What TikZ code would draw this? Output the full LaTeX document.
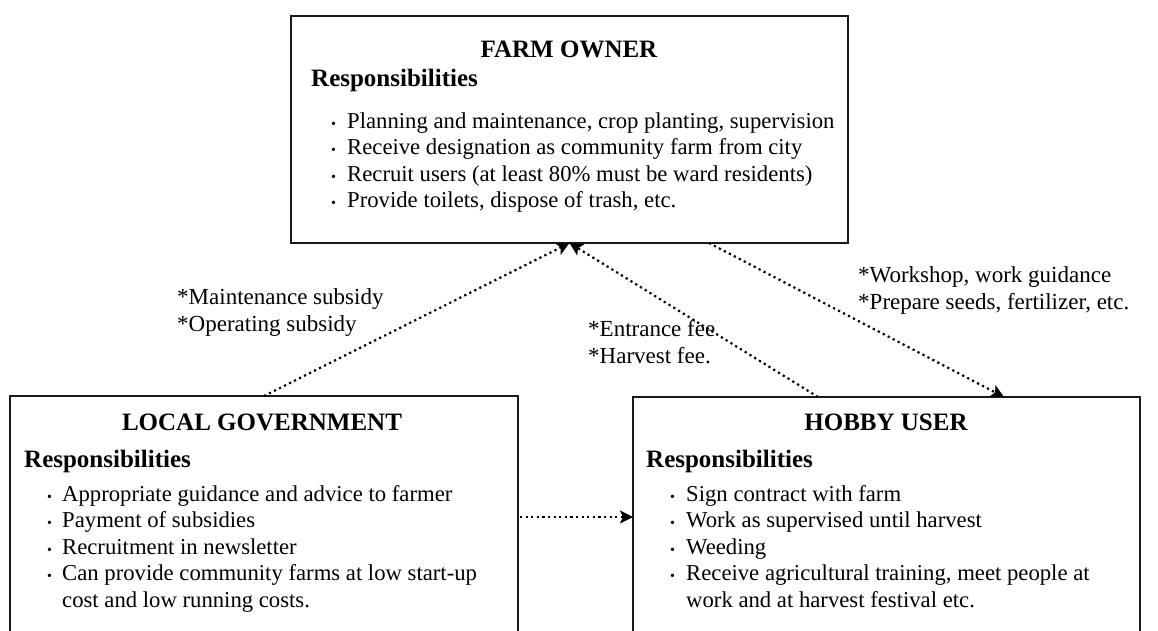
\documentclass[tikz,border=0pt]{standalone}
\usepackage{fontspec}
\setmainfont{Liberation Serif}
\usetikzlibrary{arrows.meta,calc}
\newcommand{\bul}{{\fontsize{14}{14}\selectfont\textbullet}}
\begin{document}
\begin{tikzpicture}[x=1pt,y=-1pt,
  box/.style={draw=black!90, line width=1.3pt, rectangle, inner sep=0pt, outer sep=0pt, anchor=north west},
  ttl/.style={font=\fontsize{25}{30}\selectfont\bfseries, inner sep=0pt, anchor=base},
  resp/.style={font=\fontsize{25}{30}\selectfont\bfseries, anchor=base west, inner sep=0pt},
  itm/.style={font=\fontsize{22.7}{27}\selectfont, anchor=base west, inner sep=0pt},
  dot/.style={anchor=base west, inner sep=0pt},
  lbl/.style={font=\fontsize{23}{27}\selectfont, anchor=base west, inner sep=0pt},
  flow/.style={line width=2.2pt, dash pattern=on 2.2pt off 3.4pt, -{Stealth[length=13pt,width=13pt,inset=3pt]}}
]
\useasboundingbox (0,0) rectangle (1158,630);
\clip (0,0) rectangle (1158,630);
\fill[white] (0,0) rectangle (1158,630);

% boxes
\node[box, minimum width=557pt, minimum height=227pt] (fo) at (291,16) {};
\node[box, minimum width=508pt, minimum height=300pt] (lg) at (10,396) {};
\node[box, minimum width=507pt, minimum height=300pt] (hu) at (633,397) {};

% farm owner
\node[ttl] (fot) at (569,57) {FARM OWNER};
\node[resp] (for) at (311,86) {Responsibilities};
\node[dot] (fob1) at (331,128) {\bul};
\node[itm] (fo1) at (347,128) {Planning and maintenance, crop planting, supervision};
\node[dot] (fob2) at (331,154.5) {\bul};
\node[itm] (fo2) at (347,154.5) {Receive designation as community farm from city};
\node[dot] (fob3) at (331,181) {\bul};
\node[itm] (fo3) at (347,181) {Recruit users (at least 80\% must be ward residents)};
\node[dot] (fob4) at (331,207.5) {\bul};
\node[itm] (fo4) at (347,207.5) {Provide toilets, dispose of trash, etc.};

% local government
\node[ttl] (lgt) at (262,430) {LOCAL GOVERNMENT};
\node[resp] (lgr) at (24,467) {Responsibilities};
\node[dot] (lgb1) at (47,501) {\bul};
\node[itm] (lg1) at (62,501) {Appropriate guidance and advice to farmer};
\node[dot] (lgb2) at (47,527.5) {\bul};
\node[itm] (lg2) at (62,527.5) {Payment of subsidies};
\node[dot] (lgb3) at (47,554) {\bul};
\node[itm] (lg3) at (62,554) {Recruitment in newsletter};
\node[dot] (lgb4) at (47,580.5) {\bul};
\node[itm] (lg4) at (62,580.5) {Can provide community farms at low start-up};
\node[itm] (lg5) at (62,607) {cost and low running costs.};

% hobby user
\node[ttl] (hut) at (886,430) {HOBBY USER};
\node[resp] (hur) at (646,467) {Responsibilities};
\node[dot] (hub1) at (670,501) {\bul};
\node[itm] (hu1) at (686,501) {Sign contract with farm};
\node[dot] (hub2) at (670,527.5) {\bul};
\node[itm] (hu2) at (686,527.5) {Work as supervised until harvest};
\node[dot] (hub3) at (670,554) {\bul};
\node[itm] (hu3) at (686,554) {Weeding};
\node[dot] (hub4) at (670,580.5) {\bul};
\node[itm] (hu4) at (686,580.5) {Receive agricultural training, meet people at};
\node[itm] (hu5) at (686,607) {work and at harvest festival etc.};

% labels
\node[lbl] (la1) at (177,304) {*Maintenance subsidy};
\node[lbl] (la2) at (177,331) {*Operating subsidy};
\node[lbl] (lb1) at (588,336) {*Entrance fee};
\node[lbl] (lb2) at (588,363) {*Harvest fee.};
\node[lbl] (lc1) at (858,282) {*Workshop, work guidance};
\node[lbl] (lc2) at (858,309) {*Prepare seeds, fertilizer, etc.};

% connectors
\draw[flow] (lg.north) -- (fo.south);
\draw[flow] ($(hu.north west)+(185,0)$) -- (fo.south);
\draw[flow] ($(fo.south west)+(418,0)$) -- ($(hu.north west)+(371,0)$);
\draw[flow] ($(lg.north east)+(2,121)$) -- ($(hu.north west)+(0,120)$);
\end{tikzpicture}
\end{document}
